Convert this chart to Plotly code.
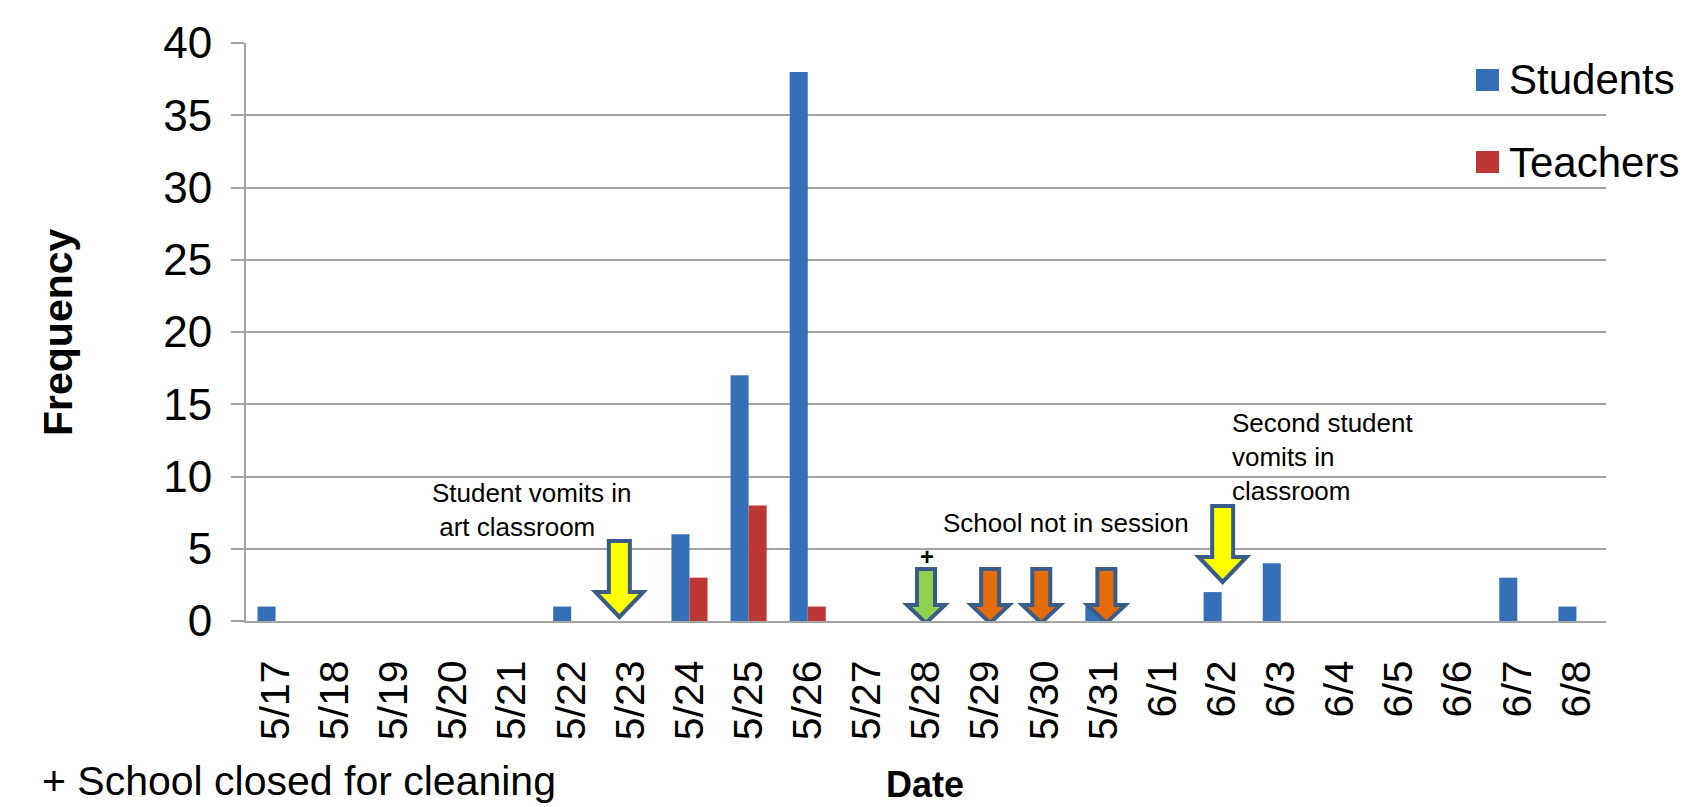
import plotly.graph_objects as go

# Daily case counts
dates = ["5/17", "5/18", "5/19", "5/20", "5/21", "5/22", "5/23", "5/24", "5/25",
         "5/26", "5/27", "5/28", "5/29", "5/30", "5/31", "6/1", "6/2", "6/3",
         "6/4", "6/5", "6/6", "6/7", "6/8"]
students = [1, 0, 0, 0, 0, 1, 0, 6, 17, 38, 0, 0, 0, 0, 1, 0, 2, 4, 0, 0, 0, 3, 1]
teachers = [0, 0, 0, 0, 0, 0, 0, 3, 8, 1, 0, 0, 0, 0, 0, 0, 0, 0, 0, 0, 0, 0, 0]
series_names = ["Students", "Teachers"]

# Event markers along the timeline
event_dates = ["5/23", "5/28", "5/29", "5/30", "5/31", "6/2"]
event_kinds = ["vomit", "closed", "off", "off", "off", "vomit"]

FONT = "Liberation Sans, Arial, sans-serif"
BLUE = "#346fb7"
RED = "#bd3734"
GRID = "#a3a3a3"
OUTLINE = "#385d8a"

W, H = 1686, 807
ML, MR, MT, MB = 246, 80, 43, 186
PW, PH = W - ML - MR, H - MT - MB


def px(x):
    return (x - ML) / PW


def py(y):
    return (H - MB - y) / PH


fig = go.Figure()
fig.add_trace(go.Bar(x=dates, y=students, name=series_names[0],
                     marker=dict(color=BLUE, line=dict(width=0))))
fig.add_trace(go.Bar(x=dates, y=teachers, name=series_names[1],
                     marker=dict(color=RED, line=dict(width=0))))

# Block-arrow styles (pixel geometry relative to the date on the baseline)
arrow_style = {
    "vomit": dict(fill="#ffff00", hw=10.5, HW=24, top=80, base=29, tip=4),
    "closed": dict(fill="#92d050", hw=9, HW=19, top=52, base=16, tip=-2),
    "off": dict(fill="#e46c0a", hw=9, HW=19, top=52, base=16, tip=-2),
}
arrow_dx = [-11, 0, 5, -3, 3, 1]
arrow_dy = [0, 0, 0, 0, 0, 35]

shapes = []
for d, kind, dx, dy in zip(event_dates, event_kinds, arrow_dx, arrow_dy):
    s = arrow_style[kind]
    hw, HW = s["hw"], s["HW"]
    top, base, tip = s["top"] + dy, s["base"] + dy, s["tip"] + dy
    path = (f"M{dx - hw},{top} L{dx + hw},{top} L{dx + hw},{base} "
            f"L{dx + HW},{base} L{dx},{tip} L{dx - HW},{base} "
            f"L{dx - hw},{base} Z")
    shapes.append(dict(type="path", xref="x", yref="y",
                       xsizemode="pixel", ysizemode="pixel",
                       xanchor=d, yanchor=0, path=path,
                       fillcolor=s["fill"],
                       line=dict(color=OUTLINE, width=4), layer="above"))

# Legend swatches
for name, color, (y0, y1) in zip(series_names, [BLUE, RED], [(69, 91), (151, 173)]):
    shapes.append(dict(type="rect", xref="paper", yref="paper",
                       x0=px(1476), x1=px(1499), y0=py(y1), y1=py(y0),
                       fillcolor=color, line=dict(width=0), layer="above"))

annotations = []
for name, yc in zip(series_names, [80, 162]):
    annotations.append(dict(text=name, xref="paper", yref="paper",
                            x=px(1507), y=py(yc), xanchor="left", yanchor="middle",
                            showarrow=False, font=dict(family=FONT, size=42, color="black")))

annotations += [
    dict(text="Student vomits in<br>\u00a0art classroom", xref="paper", yref="paper",
         x=px(430), y=py(510), xanchor="left", yanchor="middle", align="left",
         showarrow=False, font=dict(family=FONT, size=26, color="black")),
    dict(text="School not in session", xref="paper", yref="paper",
         x=px(1066), y=py(523), xanchor="center", yanchor="middle",
         showarrow=False, font=dict(family=FONT, size=26, color="black")),
    dict(text="Second student<br>vomits in<br>classroom", xref="paper", yref="paper",
         x=px(1230), y=py(457), xanchor="left", yanchor="middle", align="left",
         showarrow=False, font=dict(family=FONT, size=26, color="black")),
    dict(text="<b>+</b>", xref="paper", yref="paper",
         x=px(927), y=py(556), xanchor="center", yanchor="middle",
         showarrow=False, font=dict(family=FONT, size=24, color="black")),
    dict(text="<b>Frequency</b>", xref="paper", yref="paper",
         x=px(58), y=py(332), xanchor="center", yanchor="middle", textangle=-90,
         showarrow=False, font=dict(family=FONT, size=41, color="black")),
    dict(text="<b>Date</b>", xref="paper", yref="paper",
         x=px(925), y=py(784), xanchor="center", yanchor="middle",
         showarrow=False, font=dict(family=FONT, size=36, color="black")),
    dict(text="+ School closed for cleaning", xref="paper", yref="paper",
         x=px(40), y=py(806), xanchor="left", yanchor="bottom",
         showarrow=False, font=dict(family=FONT, size=41, color="black")),
]

fig.update_layout(
    width=W, height=H, autosize=False,
    margin=dict(l=ML, r=MR, t=MT, b=MB, pad=0),
    paper_bgcolor="white", plot_bgcolor="white",
    barmode="group", bargap=0.39, bargroupgap=0,
    showlegend=False,
    shapes=shapes, annotations=annotations,
    font=dict(family=FONT, color="black"),
)
fig.update_xaxes(
    type="category", categoryorder="array", categoryarray=dates,
    tickangle=-90, tickfont=dict(family=FONT, size=41, color="black"),
    ticks="", showgrid=False, showline=True, linecolor=GRID, linewidth=2,
    ticklabelstandoff=21, zeroline=False,
)
fig.update_yaxes(
    range=[0, 40], dtick=5, tick0=0,
    tickfont=dict(family=FONT, size=44, color="black"),
    showgrid=True, gridcolor=GRID, gridwidth=2,
    showline=True, linecolor=GRID, linewidth=2,
    ticks="outside", ticklen=13, tickwidth=2, tickcolor=GRID,
    ticklabelstandoff=10, zeroline=False,
)

fig.write_html("out.html")
